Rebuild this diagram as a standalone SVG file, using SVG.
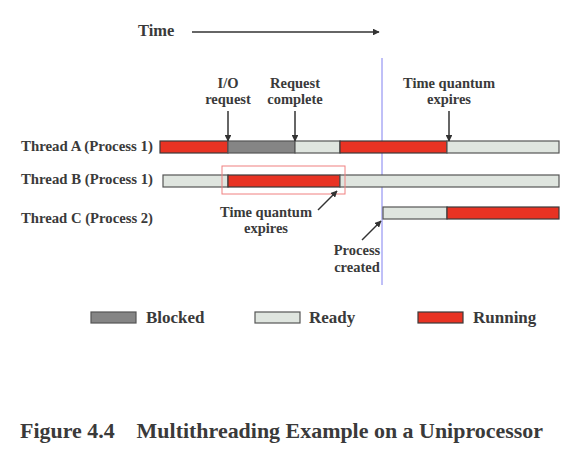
<svg xmlns="http://www.w3.org/2000/svg" width="575" height="453" viewBox="0 0 575 453">
<style>
text{font-family:"Liberation Serif","Times New Roman",serif;font-weight:bold;fill:#3a3a3a}
.lbl{font-size:14.5px}
.mid{text-anchor:middle}
.run{fill:#e83323;stroke:#3a3a3a;stroke-width:1.2}
.rdy{fill:#dfe5df;stroke:#555;stroke-width:1.2}
.blk{fill:#858585;stroke:#555;stroke-width:1.2}
.arr{stroke:#333;stroke-width:1.5;fill:none;marker-end:url(#ah)}
</style>
<defs>
<marker id="ah" viewBox="0 0 10 10" refX="9" refY="5" markerWidth="4.5" markerHeight="4.5" orient="auto" markerUnits="strokeWidth">
<path d="M0,0 L10,5 L0,10 z" fill="#333"/>
</marker>
</defs>
<rect width="575" height="453" fill="#fff"/>
<g id="time-axis">
<text x="138" y="36" font-size="16.5">Time</text>
<line x1="192" y1="32" x2="379" y2="32" class="arr" stroke-width="1.2"/>
</g>
<g id="divider">
<line x1="382" y1="58" x2="382" y2="285" stroke="#8080f0" stroke-width="1"/>
</g>
<g id="thread-a">
<text x="21" y="151" class="lbl" textLength="132" lengthAdjust="spacingAndGlyphs">Thread A (Process 1)</text>
<rect x="160" y="141" width="68" height="12" class="run"/>
<rect x="228" y="141" width="67" height="12" class="blk"/>
<rect x="295" y="141" width="45" height="12" class="rdy"/>
<rect x="340" y="141" width="107" height="12" class="run"/>
<rect x="447" y="141" width="112" height="12" class="rdy"/>
</g>
<g id="thread-b">
<text x="21" y="184" class="lbl" textLength="132" lengthAdjust="spacingAndGlyphs">Thread B (Process 1)</text>
<rect x="163" y="175" width="65" height="12" class="rdy"/>
<rect x="228" y="175" width="112" height="12" class="run"/>
<rect x="340" y="175" width="219" height="12" class="rdy"/>
<rect x="222" y="166" width="123" height="28" fill="none" stroke="#f08080" stroke-width="1"/>
</g>
<g id="thread-c">
<text x="21" y="223" class="lbl" textLength="132" lengthAdjust="spacingAndGlyphs">Thread C (Process 2)</text>
<rect x="383" y="207" width="64" height="12" class="rdy"/>
<rect x="447" y="207" width="112" height="12" class="run"/>
</g>
<g id="connectors">
<line x1="228" y1="111" x2="228" y2="141" class="arr"/>
<line x1="295" y1="111" x2="295" y2="141" class="arr"/>
<line x1="449" y1="111" x2="449" y2="141" class="arr"/>
<line x1="318" y1="210" x2="337" y2="191" class="arr"/>
<line x1="362" y1="240" x2="381" y2="221" class="arr"/>
</g>
<g id="labels">
<text x="228" y="88" class="lbl mid">I/O</text>
<text x="228" y="104" class="lbl mid">request</text>
<text x="295" y="88" class="lbl mid">Request</text>
<text x="295" y="104" class="lbl mid">complete</text>
<text x="449" y="88" class="lbl mid">Time quantum</text>
<text x="449" y="104" class="lbl mid">expires</text>
<text x="266" y="217" class="lbl mid">Time quantum</text>
<text x="266" y="233" class="lbl mid">expires</text>
<text x="357" y="255" class="lbl mid">Process</text>
<text x="357" y="272" class="lbl mid">created</text>
</g>
<g id="legend">
<rect x="91" y="312" width="45" height="11" class="blk"/>
<text x="146" y="323" font-size="17">Blocked</text>
<rect x="255" y="312" width="45" height="11" class="rdy"/>
<text x="309" y="323" font-size="17">Ready</text>
<rect x="418" y="312" width="45" height="11" class="run"/>
<text x="473" y="323" font-size="17">Running</text>
</g>
<g id="caption">
<text x="20" y="438" font-size="21" xml:space="preserve" textLength="523" lengthAdjust="spacingAndGlyphs">Figure 4.4    Multithreading Example on a Uniprocessor</text>
</g>
</svg>
